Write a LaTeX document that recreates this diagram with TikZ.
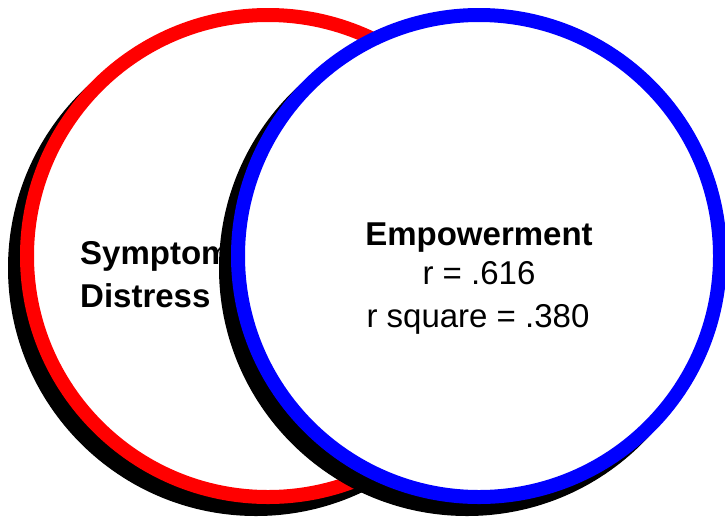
\documentclass[tikz,border=0pt]{standalone}
\usepackage{fontspec}
\setmainfont{Liberation Sans}
\usetikzlibrary{positioning}

\begin{document}
\begin{tikzpicture}[x=1pt, y=-1pt,
  ring/.style={circle, draw, line width=14pt, fill=white, inner sep=0pt,
               minimum size=482pt},
  shade/.style={circle, fill=black, inner sep=0pt, minimum size=496pt},
  lbl/.style={inner sep=0pt, font=\fontsize{33}{36}\selectfont},
  head/.style={lbl, font=\fontsize{33}{36}\selectfont\bfseries}]

  \useasboundingbox (0,0) rectangle (725,517);

  % left circle with its black shadow
  \node[shade]           (redsh) at (256,268) {};
  \node[ring, draw=red]  (sympt) at (268,256) {};
  \node[head, anchor=base west] (symline) at (80,264) {Symptom};
  \node[head, anchor=base west] (disline) at (80,307) {Distress};

  % right circle on top of it
  \node[shade]           (bluesh) at (467,268) {};
  \node[ring, draw=blue] (empow)  at (479,256) {};
  \node[head, anchor=base] (emptxt) at (479,245) {Empowerment};
  \node[lbl,  anchor=base] (rval)   at (479,284) {r = .616};
  \node[lbl,  anchor=base] (rsq)    at (478,327) {r square = .380};
\end{tikzpicture}
\end{document}
